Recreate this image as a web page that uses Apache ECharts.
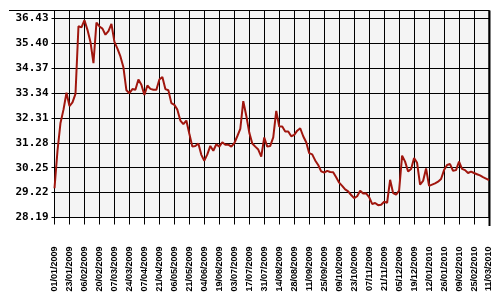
<!DOCTYPE html>
<html>
<head>
<meta charset="utf-8">
<script src="https://cdn.jsdelivr.net/npm/echarts@6/dist/echarts.min.js"></script>
<style>
html,body{margin:0;padding:0;background:#fff;}
#chart{width:500px;height:300px;}
</style>
</head>
<body>
<div id="chart"></div>
<script>
// Tick labels on the x axis (one every 5 data points)
const TICK_LABELS = [
  '01/01/2009','23/01/2009','06/02/2009','20/02/2009','07/03/2009','24/03/2009',
  '07/04/2009','21/04/2009','06/05/2009','21/05/2009','04/06/2009','19/06/2009',
  '03/07/2009','17/07/2009','31/07/2009','14/08/2009','28/08/2009','11/09/2009',
  '25/09/2009','09/10/2009','23/10/2009','07/11/2009','21/11/2009','05/12/2009',
  '19/12/2009','12/01/2010','26/01/2010','09/02/2010','25/02/2010','11/03/2010'
];
const POINTS_PER_TICK = 5;

// Series values
const VALUES = [
  29.40, 30.95, 32.10, 32.65, 33.35, 32.80, 32.95, 33.30, 36.10, 36.05,
  36.35, 35.95, 35.45, 34.57, 36.25, 36.09, 36.00, 35.75, 35.90, 36.20,
  35.45, 35.17, 34.85, 34.40, 33.45, 33.33, 33.50, 33.47, 33.90, 33.68,
  33.26, 33.65, 33.51, 33.47, 33.47, 33.90, 34.00, 33.50, 33.45, 32.92,
  32.85, 32.65, 32.20, 32.05, 32.20, 31.65, 31.12, 31.15, 31.25, 30.78,
  30.54, 30.80, 31.15, 30.95, 31.22, 31.12, 31.30, 31.20, 31.20, 31.12,
  31.26, 31.55, 31.85, 33.00, 32.40, 31.70, 31.25, 31.12, 31.00, 30.71,
  31.50, 31.12, 31.15, 31.50, 32.60, 31.95, 31.95, 31.75, 31.75, 31.55,
  31.61, 31.78, 31.88, 31.55, 31.30, 30.85, 30.80, 30.55, 30.36, 30.10,
  30.05, 30.12, 30.07, 30.06, 29.85, 29.63, 29.50, 29.35, 29.27, 29.12,
  28.99, 29.07, 29.30, 29.18, 29.19, 29.03, 28.75, 28.79, 28.70, 28.72,
  28.84, 28.80, 29.75, 29.20, 29.14, 29.30, 30.75, 30.50, 30.09, 30.20,
  30.65, 30.45, 29.55, 29.70, 30.22, 29.50, 29.55, 29.60, 29.67, 29.78,
  30.15, 30.36, 30.40, 30.12, 30.15, 30.50, 30.20, 30.15, 30.03, 30.09,
  30.03, 29.98, 29.93, 29.86, 29.80, 29.74
];

// Y axis tick values
const Y_MIN = 28.19;
const Y_STEP = 1.03;
const Y_TOP = 36.75;

// Build category list: a label every POINTS_PER_TICK points
const categories = [];
TICK_LABELS.forEach((lab, i) => {
  categories.push(lab);
  if (i < TICK_LABELS.length - 1) {
    for (let k = 1; k < POINTS_PER_TICK; k++) categories.push('');
  }
});

const chart = echarts.init(document.getElementById('chart'), null, {renderer: 'canvas'});
chart.setOption({
  animation: false,
  backgroundColor: '#ffffff',
  grid: {
    left: 54.5, right: 11, top: 10.5, bottom: 82.5,
    show: true, backgroundColor: '#f4f4f4', borderColor: '#000', borderWidth: 1
  },
  graphic: [{
    type: 'line', shape: {x1: 9, y1: 10.5, x2: 55, y2: 10.5},
    style: {stroke: '#000', lineWidth: 1}
  }, {
    type: 'line', shape: {x1: 489.5, y1: 10.5, x2: 489.5, y2: 226},
    style: {stroke: '#000', lineWidth: 2}
  }],
  xAxis: {
    type: 'category',
    data: categories,
    boundaryGap: false,
    axisLine: {lineStyle: {color: '#000', width: 1}},
    axisTick: {show: true, interval: POINTS_PER_TICK - 1, length: 7, lineStyle: {color: '#000', width: 1}},
    splitLine: {show: true, interval: POINTS_PER_TICK - 1, lineStyle: {color: '#000', width: 1}},
    axisLabel: {
      interval: POINTS_PER_TICK - 1, rotate: 90, margin: 29,
      color: '#000', fontFamily: 'Liberation Sans', fontWeight: 'bold', fontSize: 9
    }
  },
  yAxis: {
    type: 'value',
    min: 0, max: +(Y_TOP - Y_MIN).toFixed(2), interval: Y_STEP,
    axisLine: {show: true, lineStyle: {color: '#000', width: 1}},
    axisTick: {show: true, length: 3, lineStyle: {color: '#000', width: 1}},
    splitLine: {show: true, lineStyle: {color: '#000', width: 1}},
    axisLabel: {
      showMaxLabel: false, margin: 6,
      color: '#000', fontFamily: 'DejaVu Sans Mono', fontWeight: 'bold', fontSize: 11,
      formatter: v => (v + Y_MIN).toFixed(2)
    }
  },
  series: [{
    type: 'line',
    data: VALUES.map(v => +(v - Y_MIN).toFixed(4)),
    showSymbol: false,
    symbol: 'none',
    lineStyle: {color: '#a0160e', width: 2},
    silent: true
  }]
});
</script>
</body>
</html>
